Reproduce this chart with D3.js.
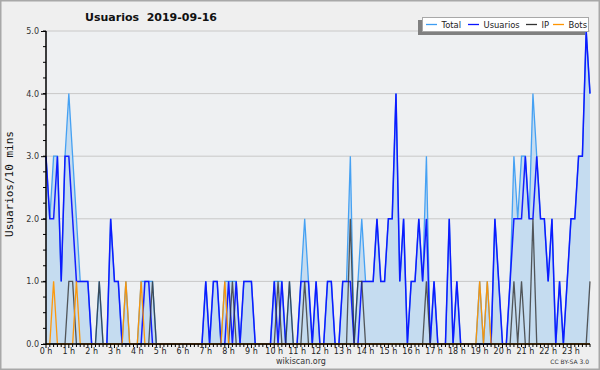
<!DOCTYPE html>
<html>
<head>
<meta charset="utf-8">
<script src="https://cdn.jsdelivr.net/npm/d3@7"></script>
<style>
body{margin:0;background:#fff;}
svg{display:block;}
</style>
</head>
<body>
<script>
const width=600,
      height=370,
      font='DejaVu Sans';

// values per 10 minutes, 6 per hour, 0h..23h50
const usuarios=[3,2,2,3,1,3, 3,2,1,1,1,1, 0,0,0,0,0,2, 1,1,0,0,0,0,
  0,0,1,1,0,0, 0,0,0,0,0,0, 0,0,0,0,0,0, 1,0,1,1,0,0,
  1,0,1,0,1,1, 1,0,0,0,0,0, 1,0,1,0,0,0, 0,1,1,1,0,1,
  0,0,1,1,0,0, 1,1,1,0,0,1, 1,1,1,2,1,1, 2,2,4,1,2,0,
  1,1,2,1,2,0, 1,0,0,0,2,0, 1,0,0,0,0,0, 0,0,0,0,2,1,
  0,0,1,2,2,2, 3,2,2,3,2,2, 1,2,0,1,0,1, 2,2,3,3,5,4];
const ip=[0,0,0,0,0,0, 1,1,0,0,0,0, 0,0,1,0,0,0, 0,0,0,0,0,0,
  0,0,0,0,1,0, 0,0,0,0,0,0, 0,0,0,0,0,0, 0,0,0,0,0,0,
  0,1,0,0,0,0, 0,0,0,0,0,0, 0,1,0,0,1,0, 0,0,1,0,0,0,
  0,0,0,0,0,0, 0,0,2,0,1,1, 0,0,0,0,0,0, 0,0,0,0,0,0,
  0,0,0,0,1,0, 0,0,0,0,0,0, 0,0,0,0,0,0, 0,0,0,0,0,0,
  0,0,0,1,0,1, 0,0,2,0,0,0, 0,0,0,0,0,0, 0,0,0,0,0,1];
const bots=[0,0,1,0,0,0, 0,0,1,0,0,0, 0,0,0,0,0,0, 0,0,0,1,0,0,
  0,1,0,0,0,0, 0,0,0,0,0,0, 0,0,0,0,0,0, 0,0,0,0,0,1,
  0,0,0,0,0,0, 0,0,0,0,0,0, 0,0,0,0,0,0, 0,0,0,0,0,0,
  0,0,0,0,0,0, 0,0,0,0,0,0, 0,0,0,0,0,0, 0,0,0,0,0,0,
  0,0,0,0,0,0, 0,0,0,0,0,0, 0,0,0,0,0,0, 1,0,1,0,0,0,
  0,0,0,0,0,0, 0,0,0,0,0,0, 0,0,0,0,0,0, 0,0,0,0,0,0];
const total=[3,2,3,3,1,3, 4,3,2,1,1,1, 0,0,1,0,0,2, 1,1,0,1,0,0,
  0,1,1,1,1,0, 0,0,0,0,0,0, 0,0,0,0,0,0, 1,0,1,1,0,1,
  1,1,1,0,1,1, 1,0,0,0,0,0, 1,1,1,0,1,0, 0,1,2,1,0,1,
  0,0,1,1,0,0, 1,1,3,0,1,2, 1,1,1,2,1,1, 2,2,4,1,2,0,
  1,1,2,1,3,0, 1,0,0,0,2,0, 1,0,0,0,0,0, 1,0,1,0,2,1,
  0,0,1,3,2,3, 3,2,4,3,2,2, 1,2,0,1,0,1, 2,2,3,3,5,4];
const yTicks=[0,1,2,3,4,5];
const hours=d3.range(24);

const series=[
  {name:"Total",values:total,color:"#3d9df2"},
  {name:"Usuarios",values:usuarios,color:"#0a14ff"},
  {name:"IP",values:ip,color:"#333333"},
  {name:"Bots",values:bots,color:"#ff9500"}
];

let svg=d3.select("body").append("svg")
  .attr("width",width)
  .attr("height",height);

// background and frame
svg.append("rect").attr("x",0.75).attr("y",0.75)
  .attr("width",width-1.5).attr("height",height-1.5)
  .style("fill","#efefef").style("stroke","#a8a8a8").style("stroke-width",1.5);

let x=d3.scaleLinear().domain([0,143]).range([46,590]);
let y=d3.scaleLinear().domain([0,5]).range([344,31]);

svg.append("rect").attr("x",x(0)).attr("y",y(5))
  .attr("width",x(143)-x(0)).attr("height",y(0)-y(5))
  .style("fill","#eef0f2");

// grid
svg.selectAll("line.grid").data(yTicks.filter(d=>d>0)).enter()
  .append("line").attr("class","grid")
  .attr("x1",x(0)).attr("x2",x(143))
  .attr("y1",d=>y(d)).attr("y2",d=>y(d))
  .style("stroke","#c8c8c8").style("stroke-width",1);

// area under total
let area=d3.area().x((d,i)=>x(i)).y0(y(0)).y1(d=>y(d));
svg.append("path").attr("d",area(total))
  .style("fill","#c5dcf0");

let line=d3.line().x((d,i)=>x(i)).y(d=>y(d));
series.forEach(s=>{
  svg.append("path").attr("d",line(s.values))
    .style("fill","none")
    .style("stroke",s.color)
    .style("stroke-width",s.name=="Usuarios"?1.5:1.3)
    .style("stroke-opacity",s.name=="IP"?0.8:0.95)
    .style("stroke-linejoin","miter");
});

// y axis
let yAxis=d3.axisLeft(y).tickValues(yTicks).tickFormat(d3.format(".1f")).tickSize(5).tickPadding(2);
let gy=svg.append("g").attr("transform","translate("+x(0)+",0)").call(yAxis);
gy.select(".domain").remove();
gy.selectAll("text").style("font-family",font).style("font-size","8px").style("fill","#333");
svg.selectAll("line.ym").data(d3.range(0,5.01,0.25)).enter()
  .append("line").attr("class","ym")
  .attr("x1",x(0)-3).attr("x2",x(0))
  .attr("y1",d=>y(d)).attr("y2",d=>y(d))
  .style("stroke","#000");

// x axis
svg.selectAll("line.xm").data(d3.range(0,144)).enter()
  .append("line").attr("class","xm")
  .attr("x1",d=>x(d)).attr("x2",d=>x(d))
  .attr("y1",y(0)).attr("y2",d=>y(0)+(d%6==0?4:3))
  .style("stroke","#000");
svg.selectAll("text.xl").data(hours).enter()
  .append("text").attr("class","xl")
  .attr("x",d=>x(d*6)).attr("y",354)
  .attr("text-anchor","middle")
  .style("font-family",font).style("font-size","8px").style("fill","#222")
  .text(d=>d+" h");

svg.append("line").attr("x1",x(0)).attr("x2",x(0)).attr("y1",y(5)).attr("y2",y(0)+0.75)
  .style("stroke","#000").style("stroke-width",1.5);
svg.append("line").attr("x1",x(0)).attr("x2",x(143)).attr("y1",y(0)).attr("y2",y(0))
  .style("stroke","#000").style("stroke-width",1.5);

// titles
svg.append("text").attr("x",151).attr("y",21).attr("text-anchor","middle")
  .style("font-family",font).style("font-weight","bold").style("font-size","11px").style("fill","#111")
  .text("Usuarios  2019-09-16").attr("xml:space","preserve");
svg.append("text").attr("transform","translate(13,184) rotate(-90)").attr("text-anchor","middle")
  .style("font-family","DejaVu Sans Mono").style("font-size","11px").style("fill","#111")
  .text("Usuarios/10 mins");
svg.append("text").attr("x",301).attr("y",364).attr("text-anchor","middle")
  .style("font-family",font).style("font-size","8px").style("fill","#333")
  .text("wikiscan.org");
svg.append("text").attr("x",589).attr("y",364).attr("text-anchor","end")
  .style("font-family",font).style("font-size","6px").style("fill","#333")
  .text("CC BY-SA 3.0");

// legend
let lg=svg.append("g");
lg.append("rect").attr("x",418).attr("y",20).attr("width",167).attr("height",15).style("fill","#808080");
lg.append("rect").attr("x",422.5).attr("y",17.5).attr("width",166).attr("height",14)
  .style("fill","#fff").style("stroke","#a8a8a8");
const legendX=[426,468,526,553];
series.forEach((s,i)=>{
  lg.append("line").attr("x1",legendX[i]).attr("x2",legendX[i]+11).attr("y1",24.5).attr("y2",24.5)
    .style("stroke",s.color).style("stroke-width",1.3);
  lg.append("text").attr("x",legendX[i]+15.5).attr("y",28)
    .style("font-family",font).style("font-size","8.4px").style("fill","#222")
    .text(s.name);
});
</script>
</body>
</html>
